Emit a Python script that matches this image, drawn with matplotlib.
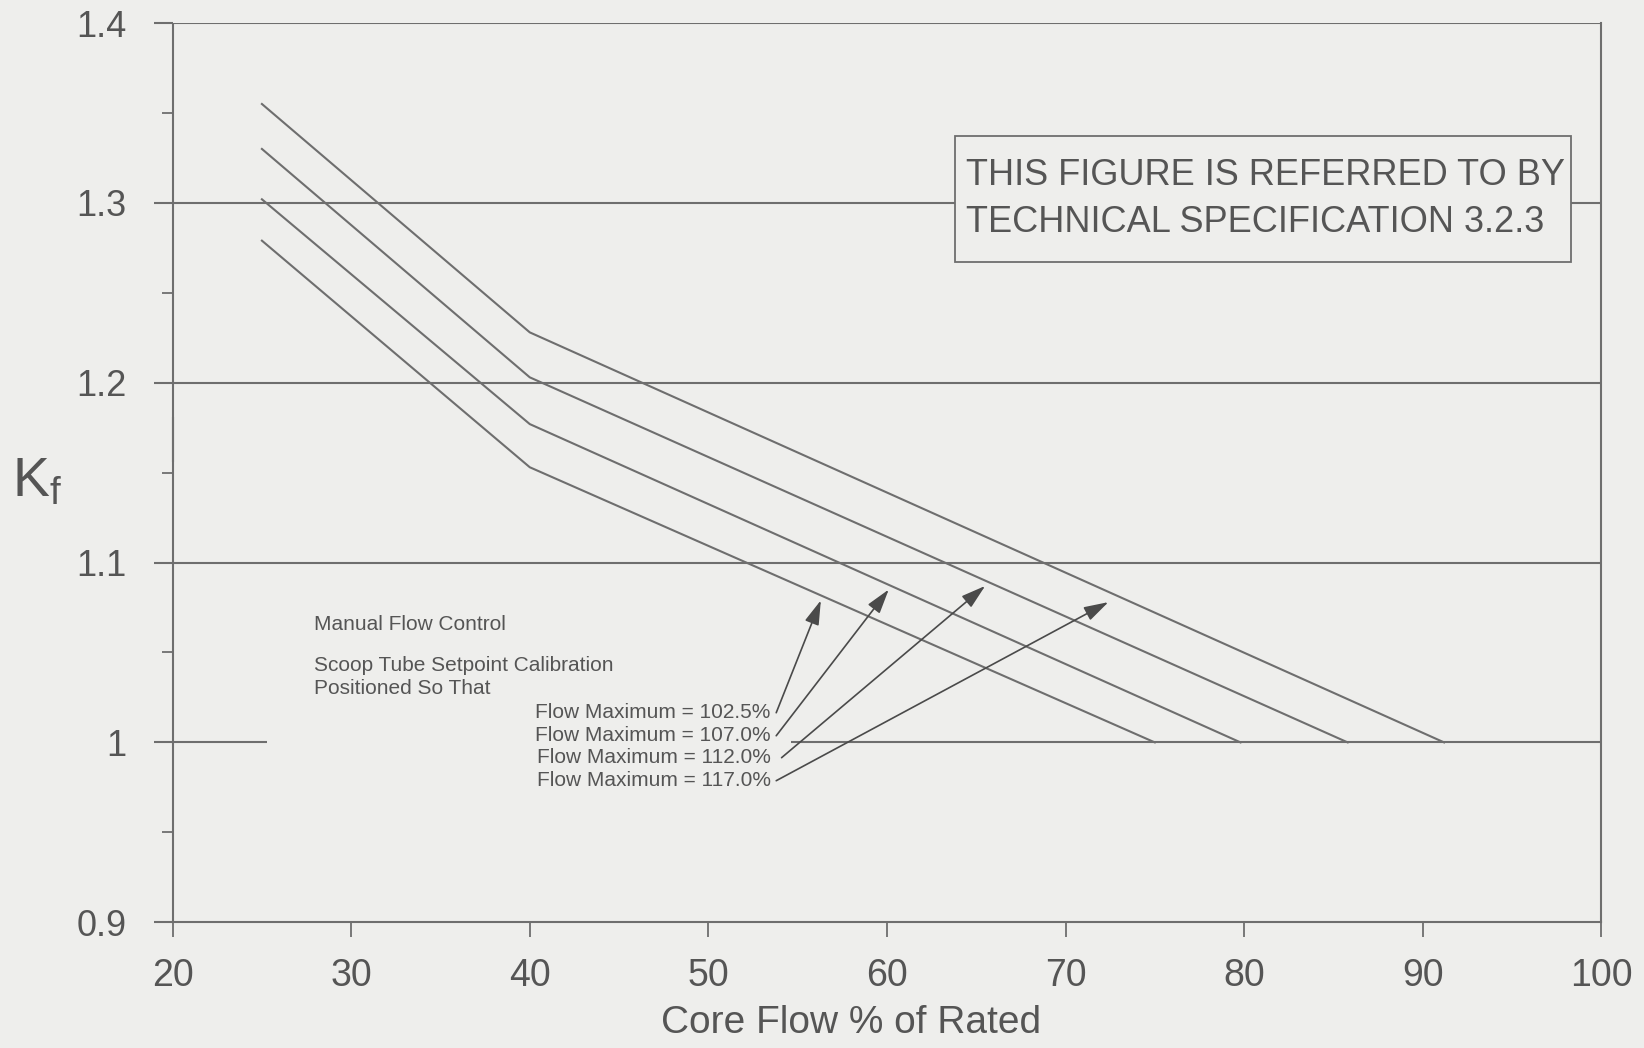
import matplotlib
matplotlib.use("Agg")
import matplotlib.pyplot as plt
from matplotlib.patches import Rectangle

# Kf curves, one per scoop tube flow maximum setting
flow_max = ["102.5", "107.0", "112.0", "117.0"]
kf_at_25 = [1.279, 1.302, 1.330, 1.355]
kf_at_40 = [1.153, 1.177, 1.203, 1.228]
flow_at_kf1 = [75.0, 79.8, 85.8, 91.2]

x_ticks = [20, 30, 40, 50, 60, 70, 80, 90, 100]
y_ticks = [0.9, 1.0, 1.1, 1.2, 1.3, 1.4]
y_minor = [0.95, 1.05, 1.15, 1.25, 1.35]

# where each label's arrow points on its curve
arrow_tail = [(53.8, 1.0165), (53.8, 1.0037), (54.1, 0.9915), (53.8, 0.9787)]
arrow_tip = [(56.3, 1.079), (60.1, 1.085), (65.5, 1.087), (72.4, 1.078)]

bg = "#eeeeec"
ink = "#6e6e6e"
txt = "#555555"

plt.rcParams["font.family"] = ["Liberation Sans", "DejaVu Sans"]
plt.rcParams["mathtext.default"] = "regular"

fig = plt.figure(figsize=(16.44, 10.48), dpi=100, facecolor=bg)
ax = fig.add_axes([0.105, 0.12, 0.869, 0.858])
ax.set_facecolor(bg)
ax.set_xlim(20, 100)
ax.set_ylim(0.9, 1.4)

# horizontal grid lines (the 1.0 one is broken by the labels)
for y in [1.1, 1.2, 1.3, 1.4]:
    ax.hlines(y, 20, 100, color=ink, lw=1.5, zorder=1)
ax.hlines(1.0, 20, 25.3, color=ink, lw=1.5, zorder=1)
ax.hlines(1.0, 54.6, 100, color=ink, lw=1.5, zorder=1)

for k25, k40, f1 in zip(kf_at_25, kf_at_40, flow_at_kf1):
    ax.plot([25, 40, f1], [k25, k40, 1.0], color=ink, lw=1.5, zorder=3)

# spines
for s in ["top", "left"]:
    ax.spines[s].set_visible(False)
for s in ["bottom", "right"]:
    ax.spines[s].set_color(ink)
    ax.spines[s].set_linewidth(1.5)
ax.vlines(20, 0.9, 1.181, color=ink, lw=1.5, clip_on=False)
ax.vlines(20, 1.156, 1.4, color=ink, lw=1.5, clip_on=False)

ax.set_xticks(x_ticks)
ax.set_xticklabels([str(v) for v in x_ticks])
ax.set_yticks(y_ticks)
ax.set_yticklabels(["0.9", "1", "1.1", "1.2", "1.3", "1.4"])
ax.set_yticks(y_minor, minor=True)
ax.tick_params(axis="x", direction="out", length=11, width=1.3, color=ink,
               labelsize=27, labelcolor=txt, pad=15)
ax.tick_params(axis="y", which="major", direction="out", length=14, width=1.5,
               color=ink, labelsize=26, labelcolor=txt, pad=19)
ax.tick_params(axis="y", which="minor", direction="out", length=8, width=1.3,
               color=ink)

ax.set_xlabel("Core Flow % of Rated", fontsize=28, color=txt, va="center")
ax.xaxis.set_label_coords(0.475, -0.112)
fig.text(0.007, 0.54, r"$K_f$", fontsize=40, color=txt, va="center")

# spec reference box
ax.add_patch(Rectangle((63.8, 1.2671), 34.5, 0.070, facecolor=bg,
                       edgecolor=ink, lw=1.3, zorder=4))
ax.text(64.4, 1.3150, "THIS FIGURE IS REFERRED TO BY", fontsize=26,
        color=txt, va="center", zorder=5)
ax.text(64.4, 1.2890, "TECHNICAL SPECIFICATION 3.2.3", fontsize=26,
        color=txt, va="center", zorder=5)

# manual flow control notes
ax.text(27.9, 1.0655, "Manual Flow Control", fontsize=15, color=txt, va="center")
ax.text(27.9, 1.0428, "Scoop Tube Setpoint Calibration", fontsize=15,
        color=txt, va="center")
ax.text(27.9, 1.0300, "Positioned So That", fontsize=15, color=txt, va="center")
for fm, tail, tip in zip(flow_max, arrow_tail, arrow_tip):
    ax.text(53.5, tail[1], "Flow Maximum = " + fm + "%", fontsize=15,
            color=txt, ha="right", va="center")
    ax.annotate("", xy=tip, xytext=tail,
                arrowprops=dict(arrowstyle="-|>,head_length=1.5,head_width=0.45",
                                color="#4a4a4a", lw=1.2, shrinkA=0, shrinkB=0))

fig.savefig("out.png", dpi=100, facecolor=bg)
